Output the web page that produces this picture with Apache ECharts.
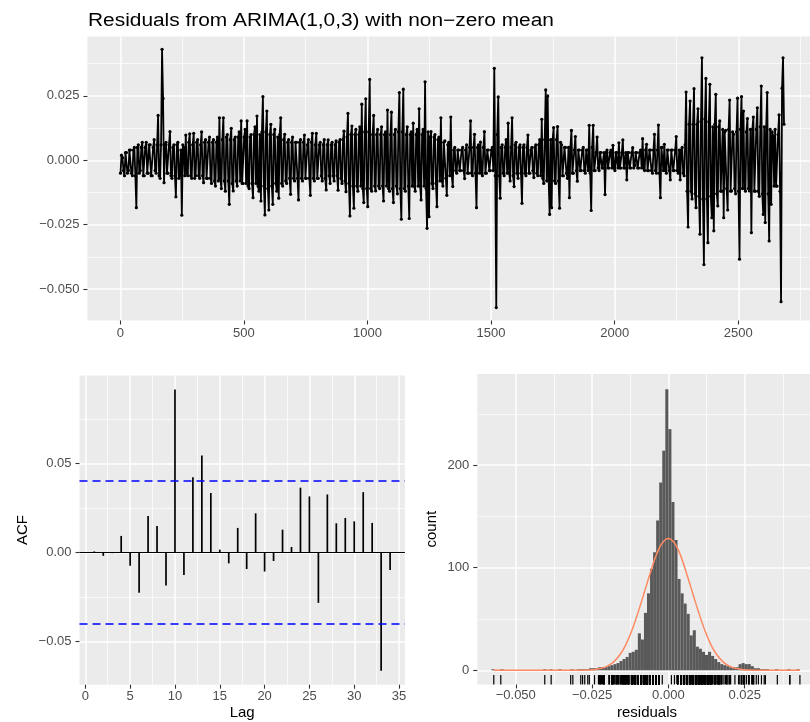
<!DOCTYPE html>
<html>
<head>
<meta charset="utf-8">
<title>Residuals from ARIMA(1,0,3)</title>
<script src="https://cdn.jsdelivr.net/npm/echarts@6/dist/echarts.min.js"></script>
<style>
  html, body { margin: 0; padding: 0; background: #fff; }
  #main { width: 810px; height: 722px; }
</style>
</head>
<body>
<div id="main"></div>
<script>
// residual series: resVal at resStart + i*resStep,
// resMid at the half step in between
const resStart = 1;
const resStep = 8;
const resVal = [
  -0.005, 0.001, -0.006, 0.003, -0.004, 0.004, -0.006, 0.005, -0.0184, 0.006, -0.004, 0.007,
  -0.006, 0.007, -0.005, 0.006, -0.006, 0.008, -0.005, 0.0174, -0.007, 0.0431, -0.0087, 0.007,
  -0.005, 0.0111, -0.007, 0.006, -0.0142, 0.007, -0.006, -0.0213, 0.005, 0.0098, -0.006, 0.0103,
  -0.007, 0.0105, -0.006, 0.008, -0.007, 0.011, -0.0087, 0.008, -0.007, 0.009, -0.009, 0.008,
  -0.010, 0.009, 0.0165, -0.011, 0.0165, -0.012, 0.010, -0.0171, 0.0124, -0.0119, 0.009, -0.010,
  0.011, 0.0153, -0.009, 0.012, 0.0153, -0.011, 0.010, -0.0145, 0.013, 0.0172, -0.012, -0.0158,
  0.0247, -0.0212, 0.0191, -0.0193, 0.014, -0.0171, 0.012, -0.012, -0.0147, 0.0165, -0.010, 0.0101,
  -0.009, 0.008, -0.0132, 0.009, -0.008, 0.007, -0.0154, 0.008, -0.008, 0.0098, -0.007, 0.008,
  -0.0136, 0.0105, -0.008, 0.0105, -0.007, 0.007, -0.008, 0.008, -0.0115, 0.0079, -0.009, 0.007,
  -0.008, 0.0075, -0.0116, 0.008, -0.009, 0.0113, -0.0122, 0.0182, -0.0216, 0.0133, -0.0186, 0.012,
  -0.012, 0.013, 0.0218, -0.0164, 0.0239, -0.018, 0.0314, -0.012, 0.0174, -0.0119, 0.012, -0.011,
  0.013, -0.0158, 0.011, 0.0195, -0.012, 0.0187, -0.0164, 0.012, -0.013, 0.0263, -0.0229, 0.0276,
  -0.012, 0.013, -0.0226, 0.011, 0.0144, -0.012, 0.012, 0.0200, -0.0154, 0.012, 0.0305, -0.0264,
  -0.0219, 0.0111, -0.011, 0.010, -0.0180, 0.009, 0.0165, -0.010, 0.0075, -0.0136, 0.007, 0.0168,
  -0.0102, 0.005, -0.005, 0.004, -0.004, 0.005, -0.0071, 0.006, -0.005, 0.0153, -0.006, 0.0101,
  -0.0184, 0.006, 0.0071, -0.006, 0.0111, -0.005, 0.004, -0.004, 0.005, 0.0357, -0.0572, 0.0246,
  -0.0147, 0.006, -0.006, 0.008, 0.0144, -0.008, 0.0165, -0.0102, 0.007, -0.007, 0.006, -0.0167,
  0.006, -0.006, 0.0098, -0.005, 0.005, -0.0067, 0.006, -0.006, 0.008, 0.0159, -0.009, 0.0273,
  0.0250, -0.0210, -0.0184, 0.0127, -0.009, 0.0131, -0.0186, 0.006, -0.006, 0.005, -0.007, -0.0145,
  0.0116, -0.005, 0.0092, -0.0081, 0.004, -0.004, 0.005, -0.005, 0.004, 0.0136, -0.0195, 0.0136,
  -0.004, 0.009, -0.004, 0.003, -0.003, -0.0133, 0.004, -0.003, 0.004, 0.0058, -0.004, 0.003,
  0.0068, -0.003, 0.0079, -0.003, -0.0076, 0.003, -0.003, 0.0049, -0.002, 0.003, -0.003, 0.004,
  0.0084, -0.004, 0.0062, -0.004, 0.004, -0.005, 0.0101, -0.005, 0.0137, -0.0145, 0.005, 0.0062,
  -0.005, 0.004, -0.0076, 0.004, -0.004, 0.0092, -0.005, -0.0076, 0.005, -0.006, 0.0265, -0.0259,
  0.0230, -0.015, 0.0278, -0.0184, 0.020, -0.0287, 0.0398, -0.0405, 0.0318, -0.0320, 0.0295, -0.0223,
  -0.0274, 0.0256, -0.0177, 0.0153, -0.012, -0.0223, 0.0116, -0.0193, 0.0234, -0.0119, 0.0101, -0.013,
  0.0241, -0.0384, 0.0247, 0.0191, -0.012, 0.0162, -0.0119, -0.0281, 0.0168, -0.012, 0.0204, -0.014,
  0.0288, -0.0210, -0.0242, 0.0263, -0.0313, -0.0171, 0.0094, 0.0120, -0.010, 0.0176, -0.0549, 0.0398
];
const resMid = [
  0.002, -0.004, 0.003, -0.005, 0.004, -0.005, 0.004, -0.006, 0.005, -0.005, 0.005, -0.006,
  0.005, -0.005, 0.006, -0.006, 0.005, -0.004, 0.006, -0.006, 0.006, 0.024, 0.006, -0.005,
  0.006, -0.006, 0.005, -0.006, 0.006, -0.007, 0.004, 0.006, -0.006, -0.005, 0.007, -0.006,
  0.006, -0.007, 0.007, -0.006, 0.006, -0.006, 0.007, -0.007, 0.007, -0.007, 0.007, -0.008,
  0.007, -0.008, -0.007, 0.008, -0.008, 0.009, -0.008, 0.008, -0.009, 0.008, -0.008, 0.009,
  -0.008, -0.009, 0.009, -0.009, -0.010, 0.009, -0.009, 0.010, -0.009, -0.010, 0.010, 0.011,
  -0.010, 0.011, -0.011, 0.010, -0.010, 0.010, -0.009, 0.009, 0.010, -0.009, 0.008, -0.008,
  0.007, -0.007, 0.007, -0.007, 0.007, -0.007, 0.007, -0.007, 0.007, -0.007, 0.006, -0.007,
  0.007, -0.007, 0.006, -0.007, 0.006, -0.006, 0.006, -0.007, 0.006, -0.006, 0.006, -0.006,
  0.006, -0.006, 0.007, -0.007, 0.008, -0.008, 0.009, -0.009, 0.010, -0.010, 0.010, -0.010,
  0.010, -0.010, -0.011, 0.011, -0.011, 0.011, -0.011, 0.010, -0.010, 0.010, -0.010, 0.010,
  -0.010, 0.010, -0.010, -0.011, 0.010, -0.011, 0.010, -0.010, 0.011, -0.011, 0.011, -0.011,
  0.010, -0.010, 0.010, -0.010, -0.010, 0.010, -0.010, -0.010, 0.010, -0.010, -0.011, 0.011,
  0.009, -0.009, 0.009, -0.009, 0.008, -0.008, -0.008, 0.007, -0.007, 0.006, -0.006, -0.006,
  0.004, -0.004, 0.004, -0.004, 0.004, -0.004, 0.004, -0.005, 0.005, -0.005, 0.005, -0.005,
  0.005, -0.005, -0.005, 0.005, -0.005, 0.004, -0.004, 0.004, -0.004, -0.006, 0.010, -0.006,
  0.005, -0.005, 0.005, -0.005, -0.005, 0.005, -0.006, 0.006, -0.005, 0.005, -0.005, 0.005,
  -0.005, 0.005, -0.005, 0.004, -0.004, 0.005, -0.005, 0.006, -0.006, -0.007, 0.008, -0.008,
  -0.008, 0.008, 0.008, -0.008, 0.008, -0.008, 0.007, -0.006, 0.005, -0.005, 0.005, 0.005,
  -0.005, 0.004, -0.004, 0.004, -0.004, 0.004, -0.004, 0.004, -0.004, -0.005, 0.005, -0.004,
  0.003, -0.003, 0.003, -0.003, 0.003, 0.003, -0.003, 0.003, -0.003, -0.003, 0.003, -0.003,
  -0.003, 0.003, -0.003, 0.003, 0.003, -0.003, 0.003, -0.003, 0.003, -0.003, 0.003, -0.003,
  -0.003, 0.004, -0.004, 0.004, -0.004, 0.004, -0.004, 0.004, -0.005, 0.005, -0.004, -0.004,
  0.004, -0.004, 0.004, -0.004, 0.004, -0.004, 0.004, 0.004, -0.005, 0.006, -0.012, 0.014,
  -0.012, 0.014, -0.013, 0.014, -0.014, 0.015, -0.015, 0.016, -0.015, 0.015, -0.014, 0.013,
  0.014, -0.013, 0.013, -0.012, 0.012, 0.011, -0.011, 0.012, -0.012, 0.011, -0.011, 0.011,
  -0.012, 0.012, -0.011, -0.011, 0.011, -0.011, 0.012, 0.012, -0.012, 0.012, -0.012, 0.013,
  -0.013, 0.013, 0.013, -0.013, 0.012, 0.011, -0.010, -0.010, 0.010, -0.012, 0.028, 0.014
];

// ACF of residuals
const acfLag = [1, 2, 3, 4, 5, 6, 7, 8, 9, 10, 11, 12, 13, 14, 15, 16, 17,
  18, 19, 20, 21, 22, 23, 24, 25, 26, 27, 28, 29, 30, 31, 32, 33, 34];
const acfVal = [0.0005, -0.002, -0.0005, 0.0092, -0.0075, -0.0228, 0.0204, 0.0148, -0.0187, 0.0915,
  -0.0127, 0.0421, 0.0544, 0.0333, 0.0015, -0.0062, 0.0137, -0.0094, 0.0219, -0.0108,
  -0.0049, 0.0127, 0.003, 0.0363, 0.0314, -0.0284, 0.0325, 0.0163, 0.0193, 0.0174,
  0.0338, 0.0165, -0.0665, -0.0099];
const acfCi = 0.0379;

// histogram of residuals
const histStart = -0.058;
const binWidth = 0.001;
const histCounts = [
  1, 0, 0, 1, 0, 0, 0, 0, 0, 0,
  0, 0, 0, 0, 0, 0, 0, 1, 0, 1,
  0, 0, 1, 0, 0, 0, 1, 0, 1, 1,
  1, 1, 2, 2, 2, 3, 3, 3, 4, 5,
  6, 7, 9, 11, 13, 17, 18, 20, 36, 30,
  56, 75, 99, 115, 146, 183, 214, 274, 235, 164,
  127, 89, 75, 65, 55, 34, 39, 23, 21, 18,
  15, 18, 14, 11, 8, 6, 5, 4, 3, 3,
  3, 6, 7, 6, 6, 4, 2, 2, 1, 1,
  1, 0, 0, 1, 0, 0, 0, 1, 0, 0, 1
];

// fitted normal curve
const normX = [-0.0572, -0.030, -0.026, -0.024, -0.022, -0.020, -0.018, -0.016, -0.014, -0.012, -0.010,
  -0.008, -0.006, -0.004, -0.002, 0, 0.002, 0.004, 0.006, 0.008, 0.010, 0.012, 0.014,
  0.016, 0.018, 0.020, 0.022, 0.024, 0.026, 0.030, 0.0431];
const normY = [0, 0, 0.3, 0.8, 1.9, 4.1, 8, 14.6, 24.6, 38.5, 55.7,
  74.8, 94.1, 112, 124, 128.5, 124, 112, 94.1, 74.8, 55.7, 38.5, 24.6,
  14.6, 8, 4.1, 1.9, 0.8, 0.3, 0, 0];

// ticks
const tsXMajor = [0, 500, 1000, 1500, 2000, 2500];
const tsXMinor = [250, 750, 1250, 1750, 2250, 2750];
const tsYMajor = [-0.05, -0.025, 0, 0.025];
const tsYMinor = [-0.0375, -0.0125, 0.0125, 0.0375];
const acfXMajor = [0, 5, 10, 15, 20, 25, 30, 35];
const acfXMinor = [2.5, 7.5, 12.5, 17.5, 22.5, 27.5, 32.5];
const acfYMajor = [-0.05, 0, 0.05];
const acfYMinor = [-0.025, 0.025, 0.075];
const histXMajor = [-0.05, -0.025, 0, 0.025];
const histXMinor = [-0.0375, -0.0125, 0.0125, 0.0375];
const histYMajor = [0, 100, 200];
const histYMinor = [50, 150, 250];

const FONT = '"Liberation Sans", Arial, Helvetica, sans-serif';
const histYMin = -13.75;

function fmtDec(d) {
  return v => (v < 0 ? '\u2212' : '') + Math.abs(v).toFixed(d);
}
function fmtInt(v) {
  return String(Math.round(v));
}

// main axis (labels, ticks, major grid) + hidden twin for the minor grid
function axisPair(gridIndex, min, max, major, minor, fmt, margin, pos, subPos, extra) {
  const main = {
    type: 'value', gridIndex: gridIndex, min: min, max: max, position: pos,
    axisLine: { show: false, onZero: false },
    axisTick: { show: true, customValues: major, length: 4, lineStyle: { color: '#333333', width: 1.1 } },
    axisLabel: { customValues: major, formatter: fmt, color: '#4D4D4D', fontSize: 13, fontFamily: FONT, margin: margin },
    splitLine: { show: true, lineStyle: { color: '#FFFFFF', width: 1.5 } }
  };
  if (extra) Object.assign(main, extra);
  const sub = {
    type: 'value', gridIndex: gridIndex, min: min, max: max, position: subPos,
    axisLine: { show: false, onZero: false },
    axisTick: { show: false, customValues: minor },
    axisLabel: { show: false },
    splitLine: { show: true, lineStyle: { color: '#FFFFFF', width: 0.7 } }
  };
  return [main, sub];
}

const nameStyle = { color: '#000', fontSize: 15, fontFamily: FONT };

const resData = [];
resVal.forEach((v, i) => {
  resData.push([resStart + i * resStep, v]);
  resData.push([resStart + i * resStep + resStep / 2, resMid[i]]);
});
const rugData = resVal.concat(resMid).map(v => [v]);

const chart = echarts.init(document.getElementById('main'), null, { renderer: 'canvas' });

const option = {
  animation: false,
  backgroundColor: '#FFFFFF',
  graphic: {
    elements: [{
      type: 'text',
      x: 88, y: 30,
      scaleX: 1.16,
      style: {
        text: 'Residuals from ARIMA(1,0,3) with non\u2212zero mean',
        font: '18px ' + FONT,
        fill: '#000',
        verticalAlign: 'bottom'
      }
    }]
  },
  grid: [
    { left: 87.4, top: 36.4, width: 728.5, height: 284.1, show: true, backgroundColor: '#EBEBEB', borderWidth: 0, outerBoundsMode: 'none' },
    { left: 79.5, top: 375.4, width: 325.4, height: 309.3, show: true, backgroundColor: '#EBEBEB', borderWidth: 0, outerBoundsMode: 'none' },
    { left: 477.3, top: 374, width: 339.4, height: 310.4, show: true, backgroundColor: '#EBEBEB', borderWidth: 0, outerBoundsMode: 'none' }
  ],
  xAxis: [].concat(
    axisPair(0, -133, 2814, tsXMajor, tsXMinor, fmtInt, 6, 'bottom', 'top'),
    axisPair(1, -0.65, 35.65, acfXMajor, acfXMinor, fmtInt, 5, 'bottom', 'top',
      { name: 'Lag', nameLocation: 'middle', nameGap: 21, nameTextStyle: nameStyle }),
    axisPair(2, -0.0626, 0.0486, histXMajor, histXMinor, fmtDec(3), 5, 'bottom', 'top',
      { name: 'residuals', nameLocation: 'middle', nameGap: 21, nameTextStyle: nameStyle })
  ),
  yAxis: [].concat(
    axisPair(0, -0.0622, 0.0481, tsYMajor, tsYMinor, fmtDec(3), 8, 'left', 'right'),
    axisPair(1, -0.0744, 0.0994, acfYMajor, acfYMinor, fmtDec(2), 8, 'left', 'right',
      { name: 'ACF', nameLocation: 'middle', nameGap: 49, nameTextStyle: nameStyle }),
    axisPair(2, histYMin, 288.75, histYMajor, histYMinor, fmtInt, 8, 'left', 'right',
      { name: 'count', nameLocation: 'middle', nameGap: 38, nameTextStyle: nameStyle })
  ),
  series: [
    {
      type: 'line',
      xAxisIndex: 0, yAxisIndex: 0,
      data: resData,
      symbol: 'circle',
      symbolSize: 3.2,
      lineStyle: { color: '#000', width: 1.8 },
      itemStyle: { color: '#000' },
      silent: true
    },
    {
      // zero line of the ACF panel
      type: 'line',
      xAxisIndex: 2, yAxisIndex: 2,
      data: [],
      color: '#000000',
      itemStyle: { color: '#000000' },
      markLine: {
        silent: true, symbol: 'none', label: { show: false },
        lineStyle: { color: '#000000', type: 'solid', width: 1.1 },
        data: [{ yAxis: 0 }]
      }
    },
    {
      // significance bounds
      type: 'line',
      xAxisIndex: 2, yAxisIndex: 2,
      data: [],
      color: '#0000FF',
      itemStyle: { color: '#0000FF' },
      markLine: {
        silent: true, symbol: 'none', label: { show: false },
        lineStyle: { color: '#0000FF', type: [8, 5], width: 1.5 },
        data: [{ yAxis: acfCi }, { yAxis: -acfCi }]
      }
    },
    {
      type: 'custom',
      xAxisIndex: 2, yAxisIndex: 2,
      data: acfLag.map((l, i) => [l, acfVal[i]]),
      encode: { x: 0, y: 1 },
      renderItem: function (params, api) {
        const a = api.coord([api.value(0), 0]);
        const b = api.coord([api.value(0), api.value(1)]);
        return {
          type: 'line',
          shape: { x1: a[0], y1: a[1], x2: b[0], y2: b[1] },
          style: { stroke: '#000', lineWidth: 1.7 }
        };
      }
    },
    {
      type: 'custom',
      xAxisIndex: 4, yAxisIndex: 4,
      data: histCounts.map((c, i) => [histStart + i * binWidth, histStart + (i + 1) * binWidth, c]),
      encode: { x: [0, 1], y: 2 },
      renderItem: function (params, api) {
        const p0 = api.coord([api.value(0), api.value(2)]);
        const p1 = api.coord([api.value(1), 0]);
        return {
          type: 'rect',
          shape: { x: p0[0], y: p0[1], width: p1[0] - p0[0], height: p1[1] - p0[1] },
          style: { fill: '#595959' }
        };
      }
    },
    {
      type: 'line',
      xAxisIndex: 4, yAxisIndex: 4,
      data: normX.map((x, i) => [x, normY[i]]),
      smooth: 0.3,
      symbol: 'none',
      color: '#FF8A62',
      lineStyle: { color: '#FF8A62', width: 1.5 },
      silent: true
    },
    {
      // rug of residuals
      type: 'custom',
      xAxisIndex: 4, yAxisIndex: 4,
      data: rugData,
      encode: { x: 0 },
      renderItem: function (params, api) {
        const p = api.coord([api.value(0), histYMin]);
        return {
          type: 'line',
          shape: { x1: p[0], y1: p[1], x2: p[0], y2: p[1] - 9.3 },
          style: { stroke: '#000', lineWidth: 1.2 }
        };
      }
    }
  ]
};

chart.setOption(option);
</script>
</body>
</html>
